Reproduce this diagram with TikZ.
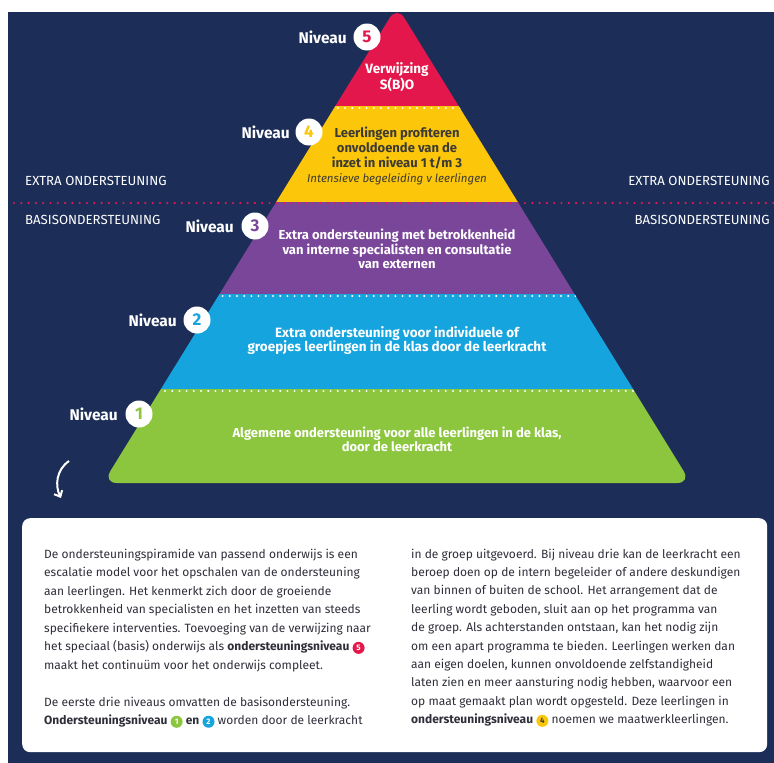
\documentclass[tikz,border=0pt]{standalone}
\usepackage{fontspec}
\setmainfont{Fira Sans}
\usetikzlibrary{arrows.meta}
\definecolor{navy}{HTML}{1C2E57}
\definecolor{red5}{HTML}{E3174B}
\definecolor{yel4}{HTML}{FCC70A}
\definecolor{pur3}{HTML}{7A469A}
\definecolor{blu2}{HTML}{16A4DE}
\definecolor{grn1}{HTML}{8CC63E}
\definecolor{pinkdot}{HTML}{E4175A}
\definecolor{yeltext}{HTML}{3C3A34}
\definecolor{bodytext}{HTML}{2E2F3A}
\newcommand{\cnum}[4]{\tikz[baseline=(#1.base)]\node[circle,fill=#2,text=#3,inner sep=0pt,minimum size=12pt,font=\fontsize{8}{8}\selectfont\bfseries](#1){#4};}
\begin{document}
\begin{tikzpicture}[x=1pt,y=-1pt,
 niv/.style={font=\fontsize{15.5}{15.5}\selectfont\bfseries, text=white, anchor=east, inner sep=0pt},
 numc/.style={circle, fill=white, minimum size=27pt, inner sep=0pt, font=\fontsize{17}{17}\selectfont\bfseries},
 band/.style={align=center, font=\fontsize{13}{14.8}\selectfont\bfseries, text=white, inner sep=0pt},
 side/.style={font=\fontsize{13.2}{13.2}\selectfont, text=white, inner sep=0pt},
 body/.style={font=\fontsize{12}{12}\selectfont, text=bodytext, anchor=base west, inner sep=0pt},
 dotline/.style={white, line width=2.2pt, dash pattern=on 0pt off 7.2pt, line cap=round},
 pinkdots/.style={pinkdot, line width=2.4pt, dash pattern=on 0pt off 7.3pt, line cap=round}]
\useasboundingbox (0,0) rectangle (774,763);
\fill[white] (0,0) rectangle (774,763);
\fill[navy] (8,12) rectangle (774,763);

% pyramid
\begin{scope}
\clip[rounded corners=14pt] (397,483) -- (103,483) -- (397,6) -- (691,483) -- cycle;
\fill[red5] (90,0) rectangle (700,106);
\fill[yel4] (90,106) rectangle (700,202);
\fill[pur3] (90,202) rectangle (700,294);
\fill[blu2] (90,294) rectangle (700,389);
\fill[grn1] (90,389) rectangle (700,490);
\draw[dotline] (93,108) -- (700,108);
\draw[dotline] (93,296) -- (700,296);
\draw[dotline] (93,391) -- (700,391);
\end{scope}
\draw[pinkdots] (14,203) -- (774,203);

% niveau labels
\node[numc, text=red5] (c5) at (367,37) {5};
\node[niv] (n5) at (347,37) {Niveau};
\node[numc, text=yel4] (c4) at (309,132) {4};
\node[niv] (n4) at (290,132) {Niveau};
\node[numc, text=pur3] (c3) at (255,226) {3};
\node[niv] (n3) at (234,226) {Niveau};
\node[numc, text=blu2] (c2) at (197,320) {2};
\node[niv] (n2) at (177,320) {Niveau};
\node[numc, text=grn1] (c1) at (139,414) {1};
\node[niv] (n1) at (118,414) {Niveau};

% band texts
\node[band, font=\fontsize{13.5}{14.5}\selectfont\bfseries] (t5) at (397,77) {Verwijzing\\S(B)O};
\node[band, text=yeltext] (t4) at (397,156) {Leerlingen profiteren\\onvoldoende van de\\inzet in niveau 1 t/m 3\\\fontsize{11.5}{14.8}\selectfont\mdseries\itshape Intensieve begeleiding v leerlingen};
\node[band] (t3) at (397,249) {Extra ondersteuning met betrokkenheid\\van interne specialisten en consultatie\\van externen};
\node[band, font=\fontsize{13.5}{14}\selectfont\bfseries] (t2) at (397,341) {Extra ondersteuning voor individuele of\\groepjes leerlingen in de klas door de leerkracht};
\node[band, font=\fontsize{13}{14}\selectfont\bfseries] (t1) at (397,439) {Algemene ondersteuning voor alle leerlingen in de klas,\\door de leerkracht};

% side labels
\node[side, anchor=west] (el) at (25,181) {EXTRA ONDERSTEUNING};
\node[side, anchor=east] (er) at (770,181) {EXTRA ONDERSTEUNING};
\node[side, anchor=west] (bl) at (25,220) {BASISONDERSTEUNING};
\node[side, anchor=east] (br) at (770,220) {BASISONDERSTEUNING};

% arrow
\coordinate (a0) at (69,461);
\coordinate (a1) at (61,498);
\draw[white, line width=2pt, -{Straight Barb[length=5pt,width=9pt]}] (a0) .. controls (56,470) and (55,486) .. (a1);

% text box
\node[fill=white, rounded corners=8pt, minimum width=745pt, minimum height=234pt, anchor=north west, inner sep=0pt] (box) at (22,518) {};

\node[body] (L1) at (44,558) {De ondersteuningspiramide van passend onderwijs is een};
\node[body] (L2) at (44,576.5) {escalatie model voor het opschalen van de ondersteuning};
\node[body] (L3) at (44,595) {aan leerlingen. Het kenmerkt zich door de groeiende};
\node[body] (L4) at (44,613.5) {betrokkenheid van specialisten en het inzetten van steeds};
\node[body] (L5) at (44,632) {specifiekere interventies. Toevoeging van de verwijzing naar};
\node[body] (L6) at (44,650.5) {het speciaal (basis) onderwijs als \textbf{ondersteuningsniveau} \cnum{i5}{red5}{white}{5}};
\node[body] (L7) at (44,669) {maakt het continuüm voor het onderwijs compleet.};
\node[body] (L8) at (44,706) {De eerste drie niveaus omvatten de basisondersteuning.};
\node[body] (L9) at (44,724.5) {\textbf{Ondersteuningsniveau} \cnum{i1}{grn1}{white}{1} \textbf{en} \cnum{i2}{blu2}{white}{2} worden door de leerkracht};

\node[body] (R1) at (411,558) {in de groep uitgevoerd. Bij niveau drie kan de leerkracht een};
\node[body] (R2) at (411,576.4) {beroep doen op de intern begeleider of andere deskundigen};
\node[body] (R3) at (411,594.8) {van binnen of buiten de school. Het arrangement dat de};
\node[body] (R4) at (411,613.2) {leerling wordt geboden, sluit aan op het programma van};
\node[body] (R5) at (411,631.6) {de groep. Als achterstanden ontstaan, kan het nodig zijn};
\node[body] (R6) at (411,650) {om een apart programma te bieden. Leerlingen werken dan};
\node[body] (R7) at (411,668.4) {aan eigen doelen, kunnen onvoldoende zelfstandigheid};
\node[body] (R8) at (411,686.8) {laten zien en meer aansturing nodig hebben, waarvoor een};
\node[body] (R9) at (411,705.2) {op maat gemaakt plan wordt opgesteld. Deze leerlingen in};
\node[body] (R10) at (411,723.6) {\textbf{ondersteuningsniveau} \cnum{i4}{yel4}{yeltext}{4} noemen we maatwerkleerlingen.};
\end{tikzpicture}
\end{document}
